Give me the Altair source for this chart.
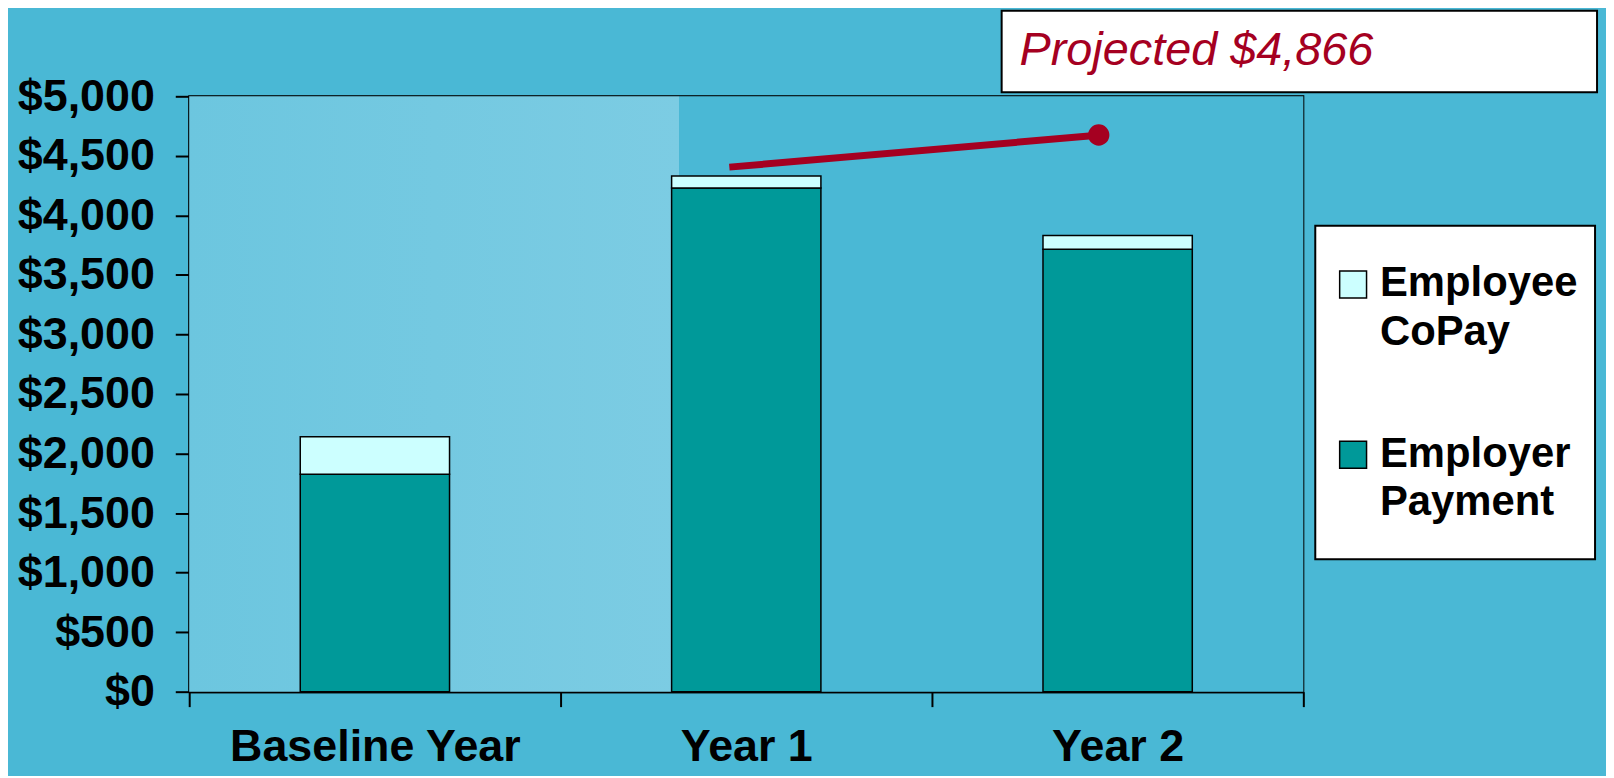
import altair as alt
import pandas as pd

# ---- data ----
years = ["Baseline Year", "Year 1", "Year 2"]
employer_payment = [1825, 4230, 3715]
employee_copay = [315, 100, 115]
series_names = ["Employee CoPay", "Employer Payment"]
series_colors = ["#CCFFFF", "#009999"]
proj_years = ["Year 1", "Year 2"]
proj_values = [4405, 4675]
proj_label = "Projected $4,866"
y_ticks = [0, 500, 1000, 1500, 2000, 2500, 3000, 3500, 4000, 4500, 5000]

rows = []
for i, yr in enumerate(years):
    rows.append({"year": yr, "series": "Employer Payment", "value": employer_payment[i], "stack": 0})
    rows.append({"year": yr, "series": "Employee CoPay", "value": employee_copay[i], "stack": 1})
bars_df = pd.DataFrame(rows)
proj_df = pd.DataFrame({"year": proj_years, "value": proj_values, "series": [proj_label] * len(proj_years)})

FONT = "Liberation Sans"
RED = "#A50021"
BG = "#4AB8D5"

x_enc = alt.X(
    "year:N",
    sort=years,
    scale=alt.Scale(domain=years, paddingInner=0, paddingOuter=0),
    axis=alt.Axis(
        title=None, labelAngle=0, labelFont=FONT, labelFontSize=45, labelFontWeight="bold",
        labelColor="black", labelPadding=18, labelLimit=600, tickBand="extent", tickSize=15,
        tickColor="black", tickWidth=2, domainColor="black", domainWidth=2, grid=False,
    ),
)
y_scale = alt.Scale(domain=[0, 5000], nice=False, zero=True)
y_axis = alt.Axis(
    title=None, values=y_ticks, format="$,.0f", labelFont=FONT, labelFontSize=45,
    labelFontWeight="bold", labelColor="black", labelPadding=21, tickSize=14,
    tickColor="black", tickWidth=2, domainColor="black", domainWidth=2,
    grid=True, gridColor="black", gridWidth=2, gridOpacity=1,
)

# decorative lighter swirl behind the plot (spans the whole view)
backdrop = alt.Chart(pd.DataFrame({"k": [0]})).mark_rect(
    fill=alt.LinearGradient(
        gradient="linear", x1=0, y1=0, x2=1, y2=0,
        stops=[
            alt.GradientStop(offset=0, color="#6CC6DF"),
            alt.GradientStop(offset=0.44, color="#7CCCE3"),
            alt.GradientStop(offset=0.44, color=BG),
            alt.GradientStop(offset=1, color=BG),
        ],
    ),
    strokeWidth=0,
).encode(x=alt.value(0), x2=alt.value("width"), y=alt.value(0), y2=alt.value("height"))

bars = alt.Chart(bars_df).mark_bar(
    stroke="black", strokeWidth=1.5, width=alt.RelativeBandSize(0.402)
).encode(
    x=x_enc,
    y=alt.Y("value:Q", stack="zero", scale=y_scale, axis=y_axis),
    fill=alt.Fill(
        "series:N",
        scale=alt.Scale(domain=series_names, range=series_colors),
        legend=alt.Legend(
            title="\u00a0", titleOrient="bottom", titleFontSize=10, titlePadding=9,
            orient="none", legendX=1131, legendY=130,
            fillColor="white", strokeColor="black", padding=17,
            symbolType="M-1,0.556H1V2.556H-1Z", symbolSize=729, symbolStrokeColor="black",
            symbolStrokeWidth=1.5, labelFont=FONT, labelFontSize=42,
            labelFontWeight="bold", labelColor="black", labelLimit=400,
            labelOffset=6, rowPadding=60, labelBaseline="top",
            labelExpr="split(datum.label, ' ')",
        ),
    ),
    order=alt.Order("stack:Q"),
)

line = alt.Chart(proj_df).mark_line(strokeWidth=7, xOffset=-17, strokeCap="butt").encode(
    x=x_enc,
    y=alt.Y("value:Q", scale=y_scale),
    stroke=alt.Stroke(
        "series:N",
        scale=alt.Scale(domain=[proj_label], range=[RED]),
        legend=alt.Legend(
            title=proj_label, titleOrient="left", titleFont=FONT, titleFontSize=47,
            titleFontStyle="italic", titleFontWeight="normal", titleColor=RED,
            titleLimit=900, titlePadding=205, titleBaseline="top",
            orient="none", legendX=816, legendY=-86,
            fillColor="white", strokeColor="black", padding=18,
            symbolSize=0, symbolStrokeWidth=0, symbolOpacity=0, labelOffset=0,
            labelFontSize=1, labelExpr="''",
        ),
    ),
)

dot = alt.Chart(proj_df).transform_filter(alt.datum.year == proj_years[-1]).mark_circle(
    size=460, opacity=1, color=RED, xOffset=-19
).encode(x=x_enc, y=alt.Y("value:Q", scale=y_scale))

chart = alt.layer(backdrop, bars, line, dot).properties(
    width=1119,
    height=598,
    autosize=alt.AutoSizeParams(type="none"),
    padding={"left": 182, "top": 87, "right": 304, "bottom": 83},
).configure(
    background=BG,
    style={"guide-label": {"lineHeight": 49}},
).configure_view(
    stroke="black", strokeWidth=2,
).configure_legend(
    strokeWidth=2
)

chart.save("out.html", embed_options={"renderer": "svg", "actions": False})
